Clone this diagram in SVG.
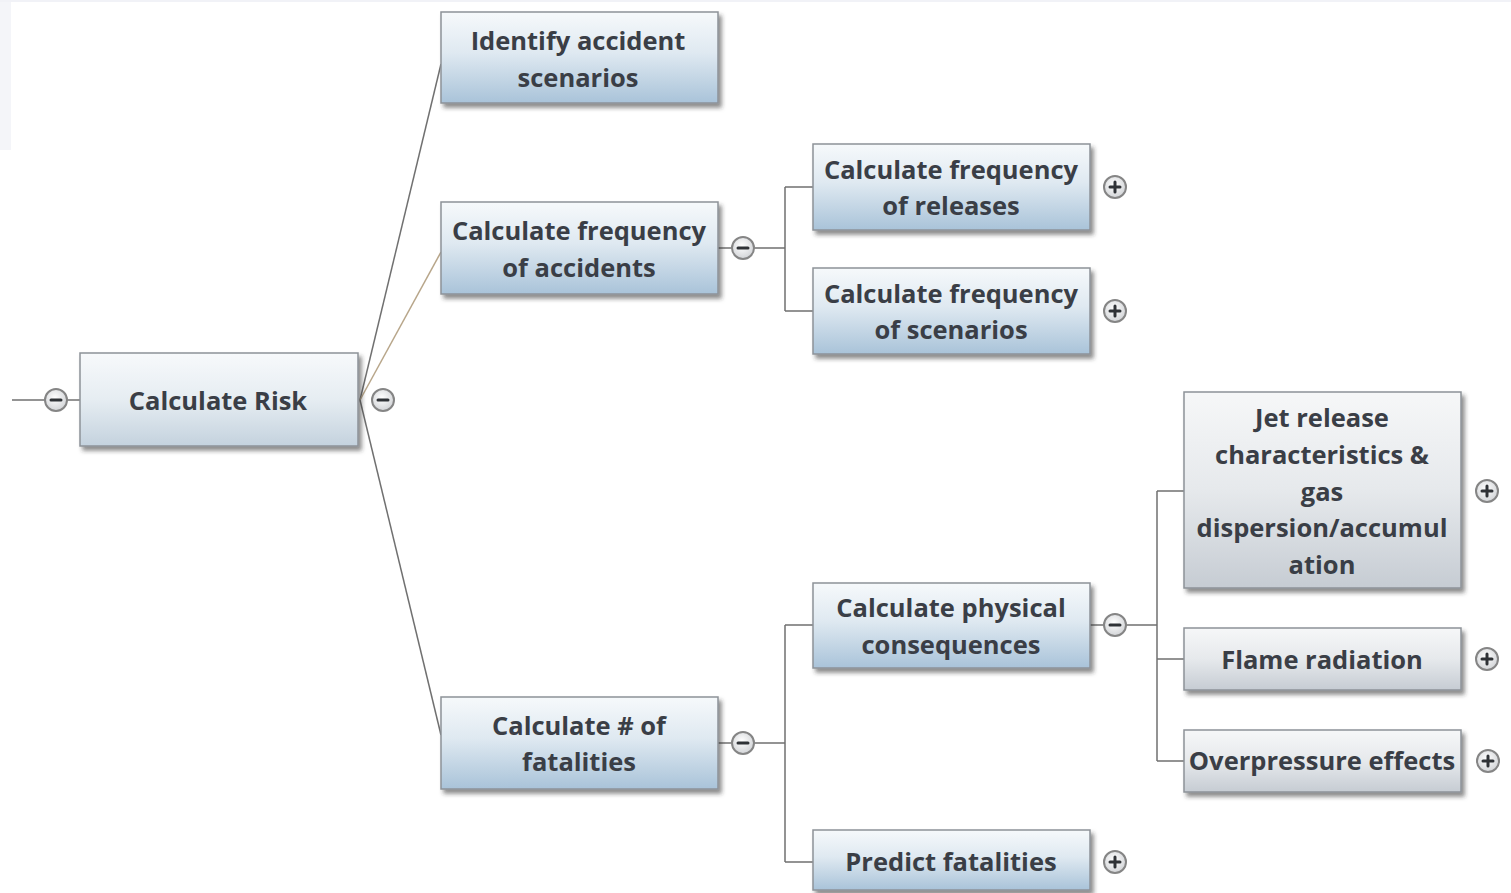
<svg xmlns="http://www.w3.org/2000/svg" width="1511" height="893" viewBox="0 0 1511 893">
<defs>
<linearGradient id="gBlue" x1="0" y1="0" x2="0" y2="1">
<stop offset="0" stop-color="#f6f9fb"/>
<stop offset="0.45" stop-color="#dfe9f1"/>
<stop offset="1" stop-color="#a9c3d9"/>
</linearGradient>
<linearGradient id="gRoot" x1="0" y1="0" x2="0" y2="1">
<stop offset="0" stop-color="#f7f9fb"/>
<stop offset="0.5" stop-color="#e6edf2"/>
<stop offset="1" stop-color="#c4d2de"/>
</linearGradient>
<linearGradient id="gGray" x1="0" y1="0" x2="0" y2="1">
<stop offset="0" stop-color="#f6f7f8"/>
<stop offset="0.5" stop-color="#e6e9ec"/>
<stop offset="1" stop-color="#c6ccd3"/>
</linearGradient>
<radialGradient id="gBtn" cx="0.45" cy="0.4" r="0.6">
<stop offset="0" stop-color="#ffffff"/>
<stop offset="1" stop-color="#d2d4d7"/>
</radialGradient>
<filter id="shadow" x="-10%" y="-10%" width="125%" height="135%">
<feDropShadow dx="3" dy="4" stdDeviation="2" flood-color="#303030" flood-opacity="0.55"/>
</filter>
</defs>
<style>
.node rect{stroke:#8d9298;stroke-width:1.5;filter:url(#shadow)}
.blue rect{fill:url(#gBlue)}
.root rect{fill:url(#gRoot)}
.gray rect{fill:url(#gGray)}
text{font-family:"Open Sans","DejaVu Sans",sans-serif;font-weight:700;font-size:25.5px;fill:#3a3e46;text-anchor:middle;dominant-baseline:central}
.conn path,.conn line{stroke:#707070;stroke-width:1.5;fill:none}
.btn circle{fill:url(#gBtn);stroke:#858585;stroke-width:2}
.btn path{stroke:#2f3236;stroke-width:3;fill:none;stroke-linecap:round}
</style>
<rect x="0" y="0" width="1511" height="893" fill="#ffffff"/>
<rect x="0" y="0" width="11" height="150" fill="#f4f5f9"/>
<rect x="0" y="0" width="1511" height="2" fill="#f1f2f7"/>

<g id="connectors" class="conn">
<line x1="12" y1="400" x2="45" y2="400"/>
<line x1="67" y1="400" x2="80" y2="400"/>
<path d="M360 400 L441 64"/>
<path d="M360 400 L441 252" style="stroke:#b8a68a"/>
<path d="M360 400 L441 735"/>
<line x1="718" y1="248" x2="732" y2="248"/>
<path d="M754 248 H785 M785 187 V311 M785 187 H813 M785 311 H813"/>
<line x1="718" y1="743" x2="732" y2="743"/>
<path d="M754 743 H785 M785 625 V862 M785 625 H813 M785 862 H813"/>
<line x1="1090" y1="625" x2="1104" y2="625"/>
<path d="M1126 625 H1157 M1157 491 V761 M1157 491 H1184 M1157 659 H1184 M1157 761 H1184"/>
</g>

<g id="node-calculate-risk" class="node root">
<rect x="80" y="353" width="278" height="93"/>
<text x="218" y="400">Calculate Risk</text>
</g>
<g id="node-identify" class="node blue">
<rect x="441" y="12" width="277" height="91"/>
<text x="578" y="40">Identify accident</text>
<text x="578" y="77">scenarios</text>
</g>
<g id="node-freq-accidents" class="node blue">
<rect x="441" y="202" width="277" height="92"/>
<text x="579" y="230">Calculate frequency</text>
<text x="579" y="267">of accidents</text>
</g>
<g id="node-fatalities" class="node blue">
<rect x="441" y="697" width="277" height="92"/>
<text x="579" y="725">Calculate # of</text>
<text x="579" y="761">fatalities</text>
</g>
<g id="node-freq-releases" class="node blue">
<rect x="813" y="144" width="277" height="86"/>
<text x="951" y="169">Calculate frequency</text>
<text x="951" y="205">of releases</text>
</g>
<g id="node-freq-scenarios" class="node blue">
<rect x="813" y="268" width="277" height="86"/>
<text x="951" y="293">Calculate frequency</text>
<text x="951" y="329">of scenarios</text>
</g>
<g id="node-physical" class="node blue">
<rect x="813" y="583" width="277" height="85"/>
<text x="951" y="607">Calculate physical</text>
<text x="951" y="644">consequences</text>
</g>
<g id="node-predict" class="node blue">
<rect x="813" y="830" width="277" height="60"/>
<text x="951" y="861">Predict fatalities</text>
</g>
<g id="node-jet" class="node gray">
<rect x="1184" y="392" width="277" height="196"/>
<text x="1322" y="417">Jet release</text>
<text x="1322" y="454">characteristics &amp;</text>
<text x="1322" y="491">gas</text>
<text x="1322" y="527">dispersion/accumul</text>
<text x="1322" y="564">ation</text>
</g>
<g id="node-flame" class="node gray">
<rect x="1184" y="628" width="277" height="62"/>
<text x="1322" y="659">Flame radiation</text>
</g>
<g id="node-overpressure" class="node gray">
<rect x="1184" y="730" width="277" height="62"/>
<text x="1322" y="760">Overpressure effects</text>
</g>

<g id="buttons">
<g class="btn"><circle cx="56" cy="400" r="11"/><path d="M51 400 H61"/></g>
<g class="btn"><circle cx="383" cy="400" r="11"/><path d="M378 400 H388"/></g>
<g class="btn"><circle cx="743" cy="248" r="11"/><path d="M738 248 H748"/></g>
<g class="btn"><circle cx="1115" cy="187" r="11"/><path d="M1110 187 H1120 M1115 182 V192"/></g>
<g class="btn"><circle cx="1115" cy="311" r="11"/><path d="M1110 311 H1120 M1115 306 V316"/></g>
<g class="btn"><circle cx="743" cy="743" r="11"/><path d="M738 743 H748"/></g>
<g class="btn"><circle cx="1115" cy="625" r="11"/><path d="M1110 625 H1120"/></g>
<g class="btn"><circle cx="1115" cy="862" r="11"/><path d="M1110 862 H1120 M1115 857 V867"/></g>
<g class="btn"><circle cx="1487" cy="491" r="11"/><path d="M1482 491 H1492 M1487 486 V496"/></g>
<g class="btn"><circle cx="1487" cy="659" r="11"/><path d="M1482 659 H1492 M1487 654 V664"/></g>
<g class="btn"><circle cx="1488" cy="761" r="11"/><path d="M1483 761 H1493 M1488 756 V766"/></g>
</g>
</svg>
